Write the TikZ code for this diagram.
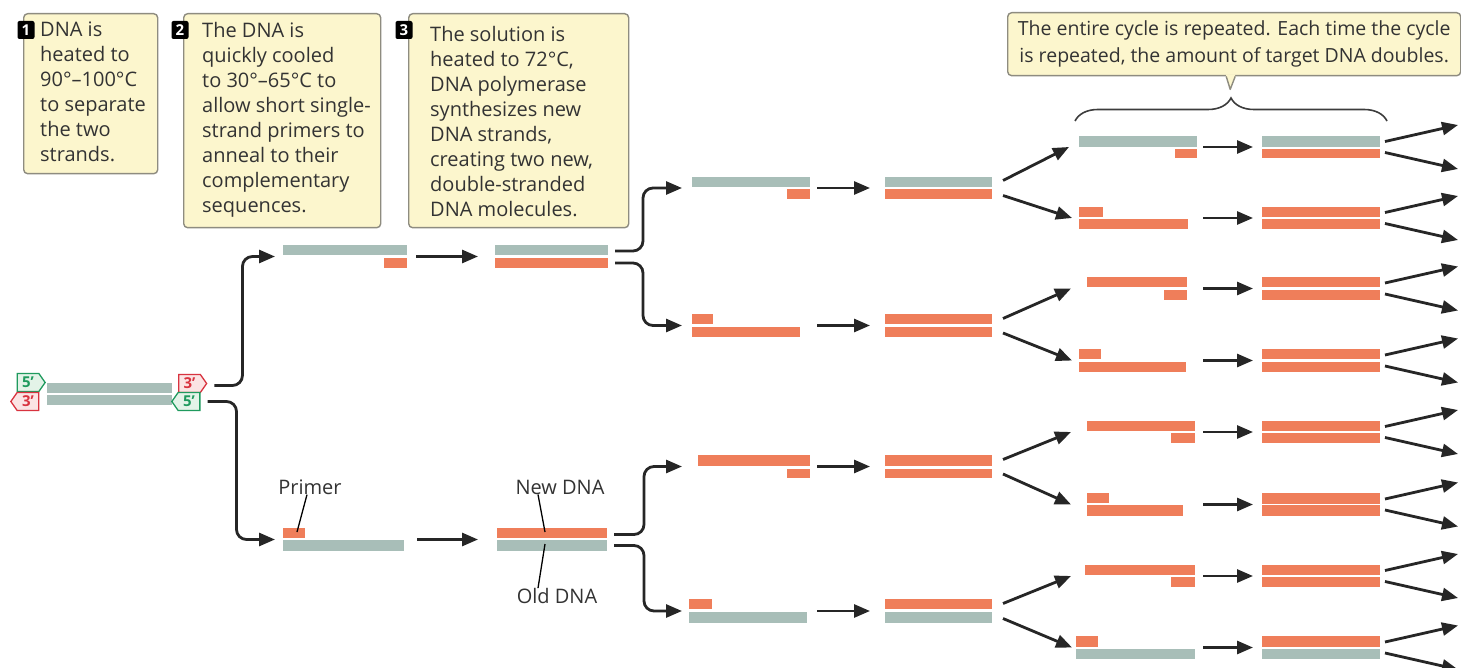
\documentclass[tikz,border=0pt]{standalone}
\usepackage{fontspec}
\setmainfont{Open Sans}
\usetikzlibrary{arrows.meta,calc,shapes.symbols,decorations.pathreplacing}

\definecolor{oldDNA}{HTML}{A8BEB8}
\definecolor{newDNA}{HTML}{EF7E5A}
\definecolor{boxfill}{HTML}{FCF6CD}
\definecolor{boxline}{HTML}{8E8C80}
\definecolor{arrowc}{HTML}{262626}
\definecolor{tagred}{HTML}{D8333F}
\definecolor{tagredfill}{HTML}{FBE4E4}
\definecolor{taggreen}{HTML}{1F9A5E}
\definecolor{taggreenfill}{HTML}{E3F3E8}
\definecolor{txt}{HTML}{333333}

% invisible frame of one DNA molecule, used as anchor for the arrows
\newcommand\molecule[5]{\node[mol, minimum width={#4-#2}, minimum height={#5-#3}] (#1) at (#2,#3) {};}
% template (old) and newly made strands
\newcommand\oldstrand[4]{\fill[oldDNA] (#1,#2) rectangle (#3,#4);}
\newcommand\newstrand[4]{\fill[newDNA] (#1,#2) rectangle (#3,#4);}

\begin{document}
\begin{tikzpicture}[x=1pt,y=-1pt,
  stepbox/.style={draw=boxline, line width=1.4pt, fill=boxfill, rounded corners=4pt,
    anchor=north west, inner sep=0pt},
  badge/.style={fill=black, text=white, rounded corners=2pt, minimum width=17pt,
    minimum height=18pt, inner sep=0pt, font=\fontsize{15}{15}\selectfont\bfseries},
  boxtext/.style={anchor=west, align=left, inner sep=0pt, text=txt,
    font=\fontsize{20}{25}\selectfont},
  mol/.style={anchor=north west, inner sep=0pt, outer sep=0pt},
  arr/.style={draw=arrowc, line width=2.8pt,
    -{Triangle[length=16pt,width=13pt]}},
  branch/.style={arr, rounded corners=10pt},
  leader/.style={draw=black, line width=1.3pt},
  tag/.style={signal, draw, line width=1.3pt, minimum width=28pt, minimum height=18pt,
    inner sep=1pt, signal pointer angle=110, font=\fontsize{15}{15}\selectfont\bfseries},
  redtag/.style={tag, draw=tagred, fill=tagredfill, text=tagred},
  greentag/.style={tag, draw=taggreen, fill=taggreenfill, text=taggreen},
  lbl/.style={inner sep=0pt, text=txt, font=\fontsize{20}{24}\selectfont},
  bracestyle/.style={draw=arrowc!90, line width=1.6pt,
    decorate, decoration={brace, amplitude=23pt}}
]
\fill[white] (0,0) rectangle (1461,668);
\useasboundingbox (0,0) rectangle (1461,668);

% ---------------- step boxes ----------------
\node[stepbox, minimum width=134, minimum height=160] (box1) at (23,13) {};
\node[boxtext] (txt1) at (40,92) {DNA is\\heated to\\90°–100°C\\to separate\\the two\\strands.};
\node[badge] (b1) at (26,30) {1};

\node[stepbox, minimum width=197, minimum height=214] (box2) at (183,13) {};
\node[boxtext] (txt2) at (202,120) {The DNA is\\quickly cooled\\to 30°–65°C to\\allow short single-\\strand primers to\\anneal to their\\complementary\\sequences.};
\node[badge] (b2) at (180,30) {2};

\node[stepbox, minimum width=220, minimum height=214] (box3) at (408,13) {};
\node[boxtext] (txt3) at (430,122) {The solution is\\heated to 72°C,\\DNA polymerase\\synthesizes new\\DNA strands,\\creating two new,\\double-stranded\\DNA molecules.};
\node[badge] (b3) at (404,30) {3};

% callout over the repeated cycle
\node[stepbox, minimum width=453, minimum height=63] (cyc) at (1007,12) {};
\fill[boxfill] ([xshift=-8]cyc.south) -- ([shift={(-4,13)}]cyc.south) -- ([xshift=1]cyc.south) -- ([shift={(1,-2)}]cyc.south) -- ([shift={(-8,-2)}]cyc.south) -- cycle;
\draw[boxline, line width=1.4pt, line join=round] ([xshift=-8]cyc.south) -- ([shift={(-4,13)}]cyc.south) -- ([xshift=1]cyc.south);
\node[lbl, align=center, font=\fontsize{19.5}{27}\selectfont] (cyctxt) at (cyc.center)
  {The entire cycle is repeated. Each time the cycle\\is repeated, the amount of target DNA doubles.};

% ---------------- starting double strand ----------------
\molecule{m0}{47}{383}{172}{405}
\oldstrand{47}{383}{172}{393}
\oldstrand{47}{395}{172}{405}
\node[greentag, signal to=east] (t5a) at (28,382.5) {5’};
\node[redtag, signal to=west] (t3a) at (28,401.5) {3’};
\node[redtag, signal to=east] (t3b) at (189.5,383.5) {3’};
\node[greentag, signal to=west] (t5b) at (189,401.5) {5’};

% ---------------- first cycle ----------------
\molecule{m2a}{283}{245}{407}{268}
\oldstrand{283}{245}{407}{255}
\newstrand{384}{258}{407}{268}
\molecule{m2b}{283}{528}{404}{551}
\newstrand{283}{528}{305}{538}
\oldstrand{283}{540}{404}{551}

\molecule{m3a}{495}{245}{608}{268}
\oldstrand{495}{245}{608}{255}
\newstrand{495}{258}{608}{268}
\molecule{m3b}{497}{528}{607}{551}
\newstrand{497}{528}{607}{538}
\oldstrand{497}{540}{607}{551}

\draw[branch, shorten >=8pt] ([shift={(7,2)}]t3b.east) -- ++(28,0) |- (m2a.west);
\draw[branch, shorten >=8pt] ([xshift=7]t5b.east) -- ++(29,0) |- (m2b.west);
\draw[arr, shorten <=9pt, shorten >=17pt] (m2a.east) -- (m3a.west);
\draw[arr, shorten <=13pt, shorten >=19pt] (m2b.east) -- (m3b.west);

% labels
\node[lbl] (primer) at (310,487) {Primer};
\node[lbl] (newlbl) at (560,487) {New DNA};
\node[lbl] (oldlbl) at (557,596) {Old DNA};
\draw[leader] ([xshift=-3]primer.south) -- ([shift={(14,4)}]m2b.north west);
\draw[leader] ([xshift=-22]newlbl.south) -- ([shift={(48,4)}]m3b.north west);
\draw[leader] ([shift={(48,16)}]m3b.north west) -- ([xshift=-19]oldlbl.north);

% ---------------- second cycle ----------------
\molecule{m4a}{690}{177}{810}{199}
\oldstrand{692}{177}{810}{187}
\newstrand{787}{189}{810}{199}
\molecule{m4b}{690}{314}{810}{337}
\newstrand{692}{314}{713}{324}
\newstrand{692}{327}{800}{337}
\molecule{m4c}{690}{455}{810}{478}
\newstrand{698}{455}{810}{466}
\newstrand{787}{469}{810}{478}
\molecule{m4d}{690}{599}{810}{623}
\newstrand{689}{599}{712}{609}
\oldstrand{689}{612}{807}{623}

\molecule{m5a}{885}{177}{992}{199}
\oldstrand{885}{177}{992}{187}
\newstrand{885}{189}{992}{199}
\molecule{m5b}{885}{314}{992}{337}
\newstrand{885}{314}{992}{324}
\newstrand{885}{327}{992}{337}
\molecule{m5c}{885}{455}{992}{478}
\newstrand{885}{455}{992}{466}
\newstrand{885}{469}{992}{478}
\molecule{m5d}{885}{599}{992}{623}
\newstrand{885}{599}{992}{609}
\oldstrand{885}{612}{992}{623}

\draw[branch, shorten >=8pt] ([shift={(7,-5.5)}]m3a.east) -- ++(28,0) |- (m4a.west);
\draw[branch, shorten >=8pt] ([shift={(7,6.5)}]m3a.east) -- ++(28,0) |- (m4b.west);
\draw[branch, shorten >=8pt] ([shift={(7,-5)}]m3b.east) -- ++(30,0) |- (m4c.west);
\draw[branch, shorten >=8pt] ([shift={(7,6)}]m3b.east) -- ++(30,0) |- (m4d.west);
\foreach \r in {a,b,c,d}
  \draw[arr, shorten <=7pt, shorten >=15pt] (m4\r.east) -- (m5\r.west);

% ---------------- third cycle ----------------
\molecule{A6}{1078}{136}{1197}{158}
\oldstrand{1079}{136}{1197}{147}
\newstrand{1175}{149}{1197}{158}
\molecule{B6}{1078}{207}{1197}{229}
\newstrand{1079}{207}{1103}{217}
\newstrand{1079}{219}{1188}{229}
\molecule{C6}{1078}{277}{1197}{300}
\newstrand{1087}{277}{1187}{287}
\newstrand{1164}{290}{1187}{300}
\molecule{D6}{1078}{349}{1197}{372}
\newstrand{1079}{349}{1101}{359}
\newstrand{1079}{362}{1186}{372}
\molecule{E6}{1078}{421}{1197}{443}
\newstrand{1087}{421}{1195}{431}
\newstrand{1171}{433}{1195}{443}
\molecule{F6}{1078}{493}{1197}{516}
\newstrand{1087}{493}{1109}{503}
\newstrand{1087}{505}{1183}{516}
\molecule{G6}{1078}{565}{1197}{587}
\newstrand{1085}{565}{1195}{575}
\newstrand{1171}{577}{1195}{587}
\molecule{H6}{1078}{636}{1197}{659}
\newstrand{1076}{636}{1098}{647}
\oldstrand{1076}{649}{1195}{659}

\molecule{A7}{1262}{136}{1380}{158}
\oldstrand{1262}{136}{1380}{147}
\newstrand{1262}{149}{1380}{158}
\molecule{B7}{1262}{207}{1380}{229}
\newstrand{1262}{207}{1380}{217}
\newstrand{1262}{219}{1380}{229}
\molecule{C7}{1262}{277}{1380}{300}
\newstrand{1262}{277}{1380}{287}
\newstrand{1262}{290}{1380}{300}
\molecule{D7}{1262}{349}{1380}{372}
\newstrand{1262}{349}{1380}{359}
\newstrand{1262}{362}{1380}{372}
\molecule{E7}{1262}{421}{1380}{443}
\newstrand{1262}{421}{1380}{431}
\newstrand{1262}{433}{1380}{443}
\molecule{F7}{1262}{493}{1380}{516}
\newstrand{1262}{493}{1380}{504}
\newstrand{1262}{505}{1380}{516}
\molecule{G7}{1262}{565}{1380}{587}
\newstrand{1262}{565}{1380}{575}
\newstrand{1262}{577}{1380}{587}
\molecule{H7}{1262}{636}{1380}{659}
\newstrand{1262}{636}{1380}{647}
\oldstrand{1262}{649}{1380}{659}

% each molecule of the second cycle splits into two
\draw[arr] ([shift={(11,-7.5)}]m5a.east) -- ([xshift=-9]A6.west);
\draw[arr] ([shift={(11,7.5)}]m5a.east) -- ([xshift=-6]B6.west);
\draw[arr] ([shift={(11,-7)}]m5b.east) -- ([xshift=-7]C6.west);
\draw[arr] ([shift={(11,7.5)}]m5b.east) -- ([xshift=-6]D6.west);
\draw[arr] ([shift={(11,-7)}]m5c.east) -- ([xshift=-7]E6.west);
\draw[arr] ([shift={(11,7.5)}]m5c.east) -- ([xshift=-7]F6.west);
\draw[arr] ([shift={(11,-7.5)}]m5d.east) -- ([xshift=-7]G6.west);
\draw[arr] ([shift={(11,7.5)}]m5d.east) -- ([xshift=-6]H6.west);

\foreach \r in {A,B,C,D,E,F,G,H}{
  \draw[arr, shorten <=6pt, shorten >=9pt] (\r6.east) -- (\r7.west);
  \coordinate (\r7up) at ($(\r7.east)+(78,-22)$);
  \coordinate (\r7dn) at ($(\r7.east)+(78,22)$);
  \draw[arr] ($(\r7.east)+(5,-5.5)$) -- (\r7up);
  \draw[arr] ($(\r7.east)+(5,5.5)$) -- (\r7dn);
}

% brace over the repeated step
\coordinate (braceL) at ([shift={(-3,-15)}]A6.north west);
\coordinate (braceR) at ([shift={(7,-15)}]A7.north east);
\draw[bracestyle] (braceL) -- (braceR);
\end{tikzpicture}
\end{document}
